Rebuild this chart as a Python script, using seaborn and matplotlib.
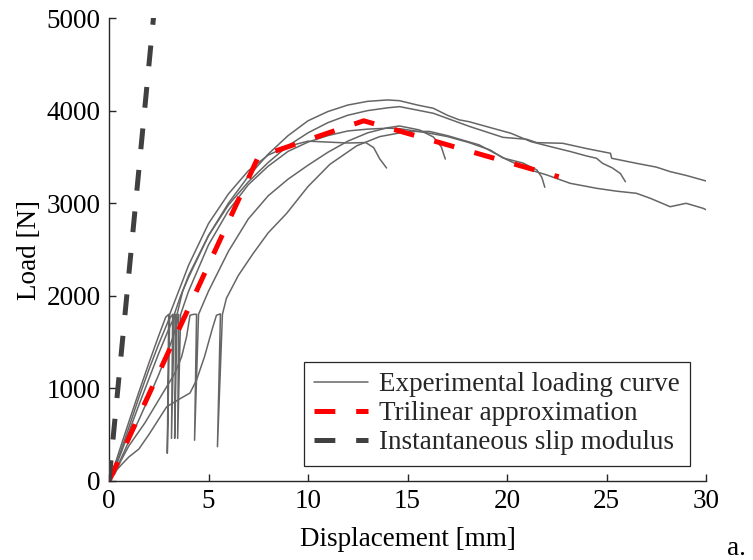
import numpy as np
import pandas as pd
import matplotlib
matplotlib.use("Agg")
import matplotlib.pyplot as plt
from matplotlib.lines import Line2D
import seaborn as sns

# ---------------- data ----------------
testA_x = [0, 0.3, 0.6, 1.0, 1.5, 2.0, 2.5, 2.85, 3.0, 2.93, 3.05, 3.5, 4.0, 5.0, 6.0, 7.0, 8.0, 9.0, 10.0, 11.0, 12.0, 12.9, 13.3, 13.6, 13.95]
testA_y = [0, 180, 380, 640, 960, 1270, 1570, 1770, 1800, 300, 1800, 2050, 2330, 2780, 3100, 3350, 3520, 3615, 3670, 3660, 3650, 3655, 3600, 3480, 3380]

testB_x = [0, 0.3, 0.6, 1.0, 1.5, 2.0, 2.5, 3.0, 3.2, 3.14, 3.28, 3.6, 4.0, 5.0, 6.0, 7.0, 8.0, 9.0, 10.0, 11.0, 12.0, 13.0, 14.0, 14.6, 15.5, 16.3, 17.0, 17.6, 18.1, 19.0, 20.2, 21.2, 22.2, 23.2, 24.0, 24.5, 24.8, 25.3, 25.7, 25.95]
testB_y = [0, 150, 330, 580, 900, 1200, 1480, 1740, 1800, 460, 1800, 2000, 2200, 2650, 3000, 3290, 3530, 3730, 3890, 3990, 4060, 4100, 4115, 4107, 4060, 4025, 3950, 3900, 3880, 3826, 3755, 3665, 3610, 3557, 3510, 3485, 3431, 3380, 3320, 3232]

testC_x = [0, 0.3, 0.6, 1.0, 1.5, 2.0, 2.5, 3.0, 3.35, 3.3, 3.42, 3.7, 4.0, 5.0, 6.0, 7.0, 8.0, 9.0, 10.0, 11.0, 12.0, 13.0, 14.0, 14.6, 16.3, 18.1, 19.8, 21.0, 21.5, 22.8, 24.0, 25.2, 25.26, 26.5, 27.5, 28.2, 29.0, 30.0]
testC_y = [0, 140, 300, 530, 820, 1100, 1380, 1640, 1800, 460, 1800, 2050, 2220, 2650, 2980, 3230, 3440, 3620, 3760, 3870, 3950, 4000, 4030, 4043, 3971, 3830, 3711, 3690, 3654, 3647, 3590, 3539, 3485, 3431, 3390, 3341, 3300, 3240]

testD_x = [0, 0.3, 0.6, 1.0, 1.5, 2.0, 2.5, 3.0, 3.3, 3.5, 3.45, 3.6, 4.0, 5.0, 6.0, 7.0, 8.0, 9.0, 10.0, 11.0, 12.0, 13.0, 14.0, 14.6, 16.0, 17.0, 18.1, 19.15, 19.8, 20.8, 21.5, 21.75, 21.9]
testD_y = [0, 110, 240, 430, 660, 900, 1150, 1420, 1610, 1800, 460, 1800, 2050, 2550, 2920, 3200, 3400, 3560, 3660, 3730, 3780, 3800, 3810, 3805, 3760, 3720, 3654, 3575, 3488, 3434, 3359, 3280, 3172]

testE_x = [0, 0.3, 0.6, 1.0, 1.8, 2.8, 3.3, 3.65, 3.9, 4.07, 4.25, 4.4, 4.3, 4.5, 4.8, 5.0, 6.0, 7.0, 8.0, 9.0, 10.0, 11.0, 12.0, 13.0, 14.0, 14.6, 15.6, 16.3, 16.7, 16.9]
testE_y = [0, 80, 220, 380, 626, 983, 1160, 1342, 1560, 1790, 1800, 1800, 440, 1800, 1950, 2050, 2480, 2830, 3080, 3260, 3410, 3550, 3670, 3760, 3815, 3834, 3791, 3715, 3607, 3477]

testF_x = [0, 0.3, 0.6, 1.0, 1.5, 2.0, 2.9, 3.5, 4.07, 4.4, 4.8, 5.2, 5.4, 5.6, 5.45, 5.7, 5.9, 6.5, 7.25, 8.0, 8.93, 10.0, 11.1, 12.45, 13.6, 15.0, 16.1, 17.0, 18.6, 20.0, 21.0, 22.0, 23.17, 24.5, 25.5, 26.5, 27.2, 28.2, 29.0, 29.85, 30.0]
testF_y = [0, 100, 170, 260, 345, 500, 802, 880, 950, 1091, 1343, 1650, 1790, 1805, 370, 1800, 1973, 2220, 2459, 2680, 2891, 3180, 3420, 3620, 3719, 3775, 3775, 3730, 3630, 3470, 3370, 3305, 3215, 3161, 3130, 3107, 3053, 2962, 2999, 2945, 2930]

trilinear_x = [0, 7.5, 12.8, 22.6]
trilinear_y = [0, 3500, 3890, 3285]

slip_x = [0, 2.3]
slip_y = [0, 5150]

x_ticks = [0, 5, 10, 15, 20, 25, 30]
y_ticks = [0, 1000, 2000, 3000, 4000, 5000]

legend_labels = ["Experimental loading curve", "Trilinear approximation", "Instantaneous slip modulus"]

# ---------------- build tables ----------------
tests = {"A": (testA_x, testA_y), "B": (testB_x, testB_y), "C": (testC_x, testC_y),
         "D": (testD_x, testD_y), "E": (testE_x, testE_y), "F": (testF_x, testF_y)}
frames = []
for name, (xs, ys) in tests.items():
    frames.append(pd.DataFrame({"test": name, "order": np.arange(len(xs)), "disp": xs, "load": ys}))
exp_df = pd.concat(frames, ignore_index=True)
tri_df = pd.DataFrame({"disp": trilinear_x, "load": trilinear_y})
slip_df = pd.DataFrame({"disp": slip_x, "load": slip_y})

# ---------------- style ----------------
sns.set_style("white")
plt.rcParams["font.family"] = ["Liberation Serif", "DejaVu Serif"]
plt.rcParams["lines.scale_dashes"] = False
FS = 19.5
axis_col = "#262626"
exp_col = "#666666"
red_col = "#ff0000"
slip_col = "#404040"
dash = (0, (15, 15))

fig = plt.figure(figsize=(7.53, 5.60), dpi=100)
ax = fig.add_axes([109 / 753, 79 / 560, (706 - 109) / 753, (481 - 18) / 560])

sns.lineplot(data=exp_df, x="disp", y="load", units="test", estimator=None, sort=False,
             color=exp_col, lw=1.1, ax=ax, legend=False, zorder=2)
sns.lineplot(data=tri_df, x="disp", y="load", sort=False, estimator=None,
             color=red_col, lw=3.6, linestyle=dash, ax=ax, legend=False, zorder=3)
sns.lineplot(data=slip_df, x="disp", y="load", sort=False, estimator=None,
             color=slip_col, lw=3.6, linestyle=dash, ax=ax, legend=False, zorder=3)

ax.set_xlim(0, 30)
ax.set_ylim(0, 5000)
ax.set_xticks(x_ticks)
ax.set_yticks(y_ticks)
ax.set_xticklabels([str(v) for v in x_ticks])
ax.set_yticklabels([str(v) for v in y_ticks])
for s in ["top", "right"]:
    ax.spines[s].set_visible(False)
for s in ["left", "bottom"]:
    ax.spines[s].set_color(axis_col)
    ax.spines[s].set_linewidth(1.0)
ax.tick_params(bottom=True, left=True, top=False, right=False,
               direction="in", length=5, width=1.0, colors=axis_col, labelcolor="black",
               labelsize=FS, pad=6)
ax.set_xlabel("Displacement [mm]", fontsize=FS, color="black", labelpad=9)
ax.set_ylabel("Load [N]", fontsize=FS, color="black", labelpad=3)

handles = [Line2D([], [], color=exp_col, lw=1.1),
           Line2D([], [], color=red_col, lw=3.6, linestyle=dash),
           Line2D([], [], color=slip_col, lw=3.6, linestyle=dash)]
leg = ax.legend(handles, legend_labels, loc="upper left",
                bbox_to_anchor=(304 / 753, (560 - 362) / 560), bbox_transform=fig.transFigure,
                fontsize=FS, frameon=True, fancybox=False, shadow=False, framealpha=1,
                handlelength=2.0, handletextpad=0.4, labelspacing=0.15, borderpad=0.38,
                borderaxespad=0)
leg.get_frame().set_edgecolor(axis_col)
leg.get_frame().set_linewidth(0.9)

fig.text(727 / 753, 5 / 560, "a.", fontsize=FS, color="black", ha="left", va="baseline")

fig.savefig("out.png", dpi=100)
